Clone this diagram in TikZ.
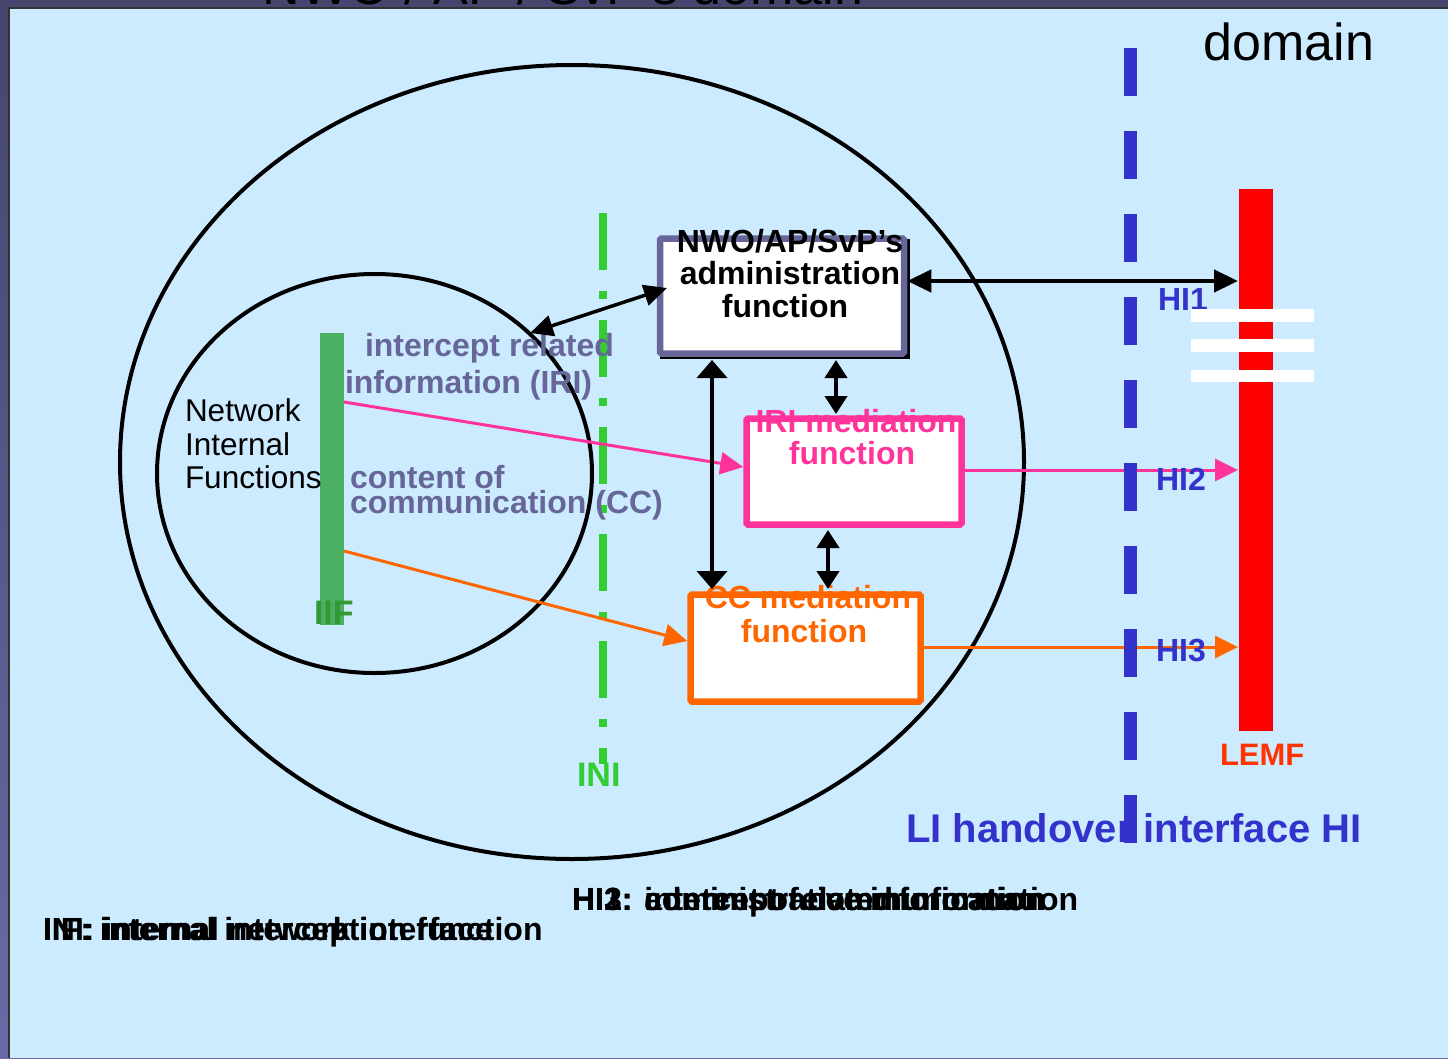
\documentclass[tikz,border=0pt]{standalone}
\usepackage{fontspec}
\setmainfont{Liberation Sans}
\usetikzlibrary{arrows.meta}
\definecolor{bgblue}{HTML}{CCEBFF}
\definecolor{frametop}{HTML}{45456E}
\definecolor{framebot}{HTML}{6A6AA6}
\definecolor{grayblue}{HTML}{666699}
\definecolor{hiblue}{HTML}{3333CC}
\definecolor{pinkc}{HTML}{FF3399}
\definecolor{orangec}{HTML}{FF6600}
\definecolor{inigreen}{HTML}{33CC33}
\definecolor{iifgreen}{HTML}{4CB062}
\definecolor{iiftext}{HTML}{339933}
\definecolor{lemfred}{HTML}{FF3300}
\newcommand\myfs[1]{\fontsize{#1}{#1}\selectfont}
\tikzset{
  txt/.style={inner sep=0pt, outer sep=0pt},
  lbl/.style={txt, font=\myfs{32}\bfseries},
  fbox/.style={rectangle, line width=6.5pt, fill=white, rounded corners=1.5pt, inner sep=0pt},
  bigtip/.style={line width=4.5pt, {Triangle[length=24pt,width=22pt]}-{Triangle[length=24pt,width=22pt]}},
  vtip/.style={line width=4pt, {Triangle[length=18pt,width=22pt]}-{Triangle[length=18pt,width=22pt]}},
  flow/.style={line width=3pt, -{Triangle[length=23pt,width=22pt]}},
}
\begin{document}
\begin{tikzpicture}[x=1pt,y=-1pt]
\useasboundingbox (0,0) rectangle (1448,1058);
\begin{scope}
\clip (0,0) rectangle (1448,1058);
% frame
\shade[top color=frametop, bottom color=framebot] (0,0) rectangle (1448,1058);
\fill[bgblue] (9,8) rectangle (1448,1058);
\draw[line width=1.2pt, black!80] (9,1058) -- (9,8) -- (1448,8);
% title texts (cut at top)
\node[txt, anchor=base, font=\myfs{52}] (title) at (563,4) {NWO / AP / SvP's domain};
\node[txt, anchor=base, font=\myfs{52}] (lea) at (1275,-2) {LEA};
\node[txt, anchor=base, font=\myfs{52}] (leadom) at (1289,60) {domain};

% ellipses
\draw[line width=4pt] (572,462) ellipse [x radius=452, y radius=397];
\coordinate (bigell) at (572,462);
\draw[line width=4pt] (374.5,473.5) ellipse [x radius=217.5, y radius=199.5];
\coordinate (smallell) at (530,333);

% IIF bar
\fill[iifgreen] (320,333) rectangle (344,625);
\coordinate (iriout) at (344,402);
\coordinate (ccout) at (344,551);
\node[txt, anchor=base west, font=\myfs{34}\bfseries, text=iiftext] (iif) at (314,624) {IIF};

\node[txt, anchor=base west, font=\myfs{31.5}] (nif1) at (185,421) {Network};
\node[txt, anchor=base west, font=\myfs{31.5}] (nif2) at (185,455) {Internal};
\node[txt, anchor=base west, font=\myfs{31.5}] (nif3) at (185,488) {Functions};

% INI line
\draw[inigreen, line width=7.5pt, dash pattern=on 57pt off 21pt on 8pt off 21pt] (603,213) -- (603,764);
\node[txt, anchor=base west, font=\myfs{34}\bfseries, text=inigreen] (ini) at (577,786) {INI};

% labels
\node[lbl, anchor=base west, text=grayblue] (irilab1) at (365,356) {intercept related};
\node[lbl, anchor=base west, text=grayblue] (irilab2) at (345,393) {information (IRI)};
\node[lbl, anchor=base west, text=grayblue] (cclab1) at (350,488) {content of};
\node[lbl, anchor=base west, text=grayblue] (cclab2) at (350,513) {communication (CC)};

% boxes
\fill[black] (660,239) rectangle (910,359);
\node[fbox, draw=grayblue, minimum width=244pt, minimum height=115pt] (admin) at (782,296) {};
\node[fbox, draw=pinkc, minimum width=215pt, minimum height=106pt] (iri) at (854,471.5) {};
\node[fbox, draw=orangec, minimum width=230pt, minimum height=107pt] (cc) at (805.5,648) {};

\node[lbl, anchor=base] (adm1) at (790,252) {NWO/AP/SvP’s};
\node[lbl, anchor=base] (adm2) at (790,284) {administration};
\node[lbl, anchor=base] (adm3) at (785,317) {function};
\node[lbl, anchor=base, text=pinkc] (iri1) at (856,432) {IRI mediation};
\node[lbl, anchor=base, text=pinkc] (iri2) at (852,464) {function};
\node[lbl, anchor=base, text=orangec] (cc1) at (808,608) {CC mediation};
\node[lbl, anchor=base, text=orangec] (cc2) at (804,642) {function};

% LEMF
\fill[red] (1239,189) rectangle (1273,731);
\coordinate (lemf1) at (1238,281);
\coordinate (lemf2) at (1238,470);
\coordinate (lemf3) at (1238,647);
\node[txt, anchor=base west, font=\myfs{31}\bfseries, text=lemfred] (lemf) at (1220,765) {LEMF};

% flows
\draw[pinkc, flow] (iriout) -- (iri.west |- 0,467);
\draw[orangec, flow] (ccout) -- (cc.west |- 0,641);
\draw[pinkc, flow] (iri.east |- 0,470) -- (lemf2);
\draw[orangec, flow] (cc.east |- 0,647) -- (lemf3);

% admin arrows
\draw[bigtip] (admin.east |- 0,281) -- (lemf1);
\draw[line width=3.5pt, {Triangle[length=23pt,width=21pt]}-{Triangle[length=23pt,width=21pt]}] (smallell) -- (667,288);
\draw[line width=4pt, {Triangle[length=18pt,width=30pt]}-{Triangle[length=18pt,width=30pt]}] (712,360) -- (712,589);
\draw[vtip] (836,360) -- (836,414);
\draw[vtip] (828,530) -- (828,589);

% HI labels
\node[lbl, anchor=base west, text=hiblue] (hi1) at (1158,310) {HI1};
\node[lbl, anchor=base west, text=hiblue] (hi2) at (1156,490) {HI2};
\node[lbl, anchor=base west, text=hiblue] (hi3) at (1156,661) {HI3};
\node[txt, anchor=base west, font=\myfs{40}\bfseries, text=hiblue] (hilab) at (906,842) {LI handover interface HI};

% HI dashed line
\draw[hiblue, line width=13pt, dash pattern=on 48pt off 35pt] (1130.5,48) -- (1130.5,844);

% white bars on LEMF
\fill[white] (1191,309) rectangle (1314,322);
\fill[white] (1191,339) rectangle (1314,352);
\fill[white] (1191,370) rectangle (1314,382);

% bottom legends (overlapping)
\node[lbl, anchor=base west] (leg1) at (43,940) {IIF: internal interception function};
\node[lbl, anchor=base west] (leg2) at (43,940) {INI: internal network interface};
\node[lbl, anchor=base west] (leg3) at (572,910) {HI1: administrative information};
\node[lbl, anchor=base west] (leg4) at (572,910) {HI2: intercept related information};
\node[lbl, anchor=base west] (leg5) at (572,910) {HI3: content of communication};
\end{scope}
\end{tikzpicture}
\end{document}
